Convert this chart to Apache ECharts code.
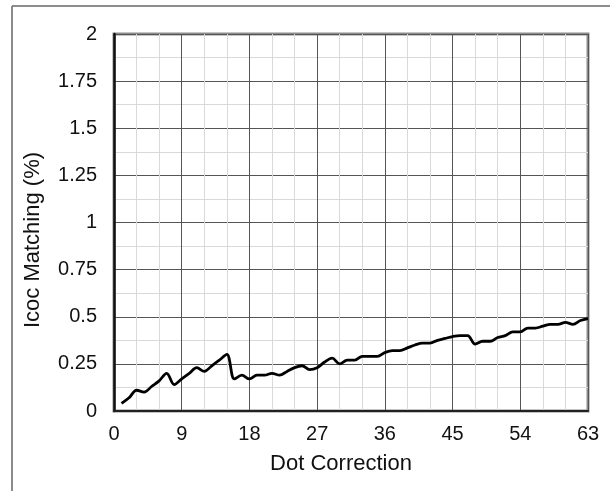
<!DOCTYPE html>
<html>
<head>
<meta charset="utf-8">
<script src="https://cdn.jsdelivr.net/npm/echarts@6/dist/echarts.min.js"></script>
<style>
html,body{margin:0;padding:0;background:#fff;}
#chart{width:610px;height:491px;}
</style>
</head>
<body>
<div id="chart"></div>
<script>
// Data
var dotCorrection = [1,2,3,4,5,6,7,8,9,10,11,12,13,14,15,16,17,18,19,20,21,22,23,24,25,26,27,28,29,30,31,32,33,34,35,36,37,38,39,40,41,42,43,44,45,46,47,48,49,50,51,52,53,54,55,56,57,58,59,60,61,62,63];
var icocMatching = [0.04,0.07,0.11,0.10,0.13,0.16,0.20,0.14,0.17,0.20,0.23,0.21,0.24,0.27,0.30,0.17,0.19,0.17,0.19,0.19,0.20,0.19,0.21,0.23,0.24,0.22,0.23,0.26,0.28,0.25,0.27,0.27,0.29,0.29,0.29,0.31,0.32,0.32,0.335,0.35,0.36,0.36,0.375,0.385,0.395,0.40,0.40,0.355,0.37,0.37,0.39,0.40,0.42,0.42,0.44,0.44,0.45,0.46,0.46,0.47,0.46,0.48,0.49];
var xTicks = [0,9,18,27,36,45,54,63];
var yTicks = [0,0.25,0.5,0.75,1,1.25,1.5,1.75,2];
var xTitle = 'Dot Correction';
var yTitle = 'Icoc Matching (%)';

var FONT = '"Liberation Sans", Arial, sans-serif';
var chart = echarts.init(document.getElementById('chart'), null, {renderer:'canvas'});
var pts = dotCorrection.map(function(x,i){return [x, icocMatching[i]];});
chart.setOption({
  animation:false,
  backgroundColor:'#fff',
  grid:{left:114, top:34, width:474, height:377, show:true, borderColor:'#8c8c8c', borderWidth:3, backgroundColor:'transparent'},
  xAxis:{
    type:'value', min:xTicks[0], max:xTicks[xTicks.length-1], interval:9,
    axisLine:{show:true, onZero:false, lineStyle:{color:'#222', width:2}},
    axisTick:{show:false},
    axisLabel:{color:'#111', fontSize:20, fontFamily:FONT, margin:13},
    splitLine:{show:true, lineStyle:{color:'#555', width:1}},
    minorTick:{show:false, splitNumber:3},
    minorSplitLine:{show:true, lineStyle:{color:'#d9d9d9', width:1}}
  },
  yAxis:{
    type:'value', min:yTicks[0], max:yTicks[yTicks.length-1], interval:0.25,
    axisLine:{show:true, onZero:false, lineStyle:{color:'#111', width:2.5}},
    axisTick:{show:false},
    axisLabel:{color:'#111', fontSize:20, fontFamily:FONT, margin:17},
    splitLine:{show:true, lineStyle:{color:'#555', width:1}},
    minorTick:{show:false, splitNumber:2},
    minorSplitLine:{show:true, lineStyle:{color:'#d9d9d9', width:1}}
  },
  series:[{
    type:'line', data:pts, smooth:0.35, symbol:'none',
    lineStyle:{color:'#000', width:2.8}, z:5
  }],
  graphic:[
    {type:'line', shape:{x1:12, y1:6, x2:12, y2:491}, style:{stroke:'#666', lineWidth:1.5}},
    {type:'line', shape:{x1:12, y1:6, x2:610, y2:6}, style:{stroke:'#666', lineWidth:1.5}},
    {type:'text', x:341, y:464, style:{text:xTitle, font:'22px '+FONT, fill:'#111', textAlign:'center', textVerticalAlign:'middle'}},
    {type:'text', x:33, y:240, rotation:Math.PI/2, style:{text:yTitle, font:'22px '+FONT, fill:'#111', textAlign:'center', textVerticalAlign:'middle'}}
  ]
});
</script>
</body>
</html>
